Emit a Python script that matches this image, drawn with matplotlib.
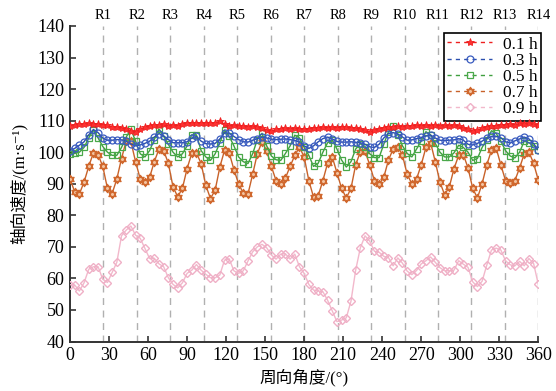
import numpy as np
import matplotlib
matplotlib.use("Agg")
import matplotlib.pyplot as plt
from matplotlib.path import Path
from matplotlib.transforms import Affine2D, blended_transform_factory

plt.rcParams['font.family'] = ['Liberation Serif', 'Noto Sans CJK SC', 'DejaVu Sans']

# circumferential angle, one sample every 3.6 deg
angle = np.arange(101) * 3.6
n_rotor = 14

v_01 = [108.4, 108.7, 108.9, 108.8, 109.1, 108.9, 109.0, 108.7, 108.5, 108.0,
        108.1, 107.6, 107.4, 106.7, 106.5, 107.3, 107.9, 108.3, 108.6, 108.5,
        108.8, 108.4, 108.6, 108.4, 108.9, 109.3, 109.1, 109.4, 109.2, 109.4,
        109.1, 109.3, 109.8, 108.9, 108.3, 108.5, 108.2, 108.4, 108.1, 108.3,
        108.0, 107.6, 107.0, 106.6, 107.2, 107.4, 107.6, 107.3, 107.6, 107.4,
        107.2, 107.5, 107.8, 107.6, 107.9, 107.7, 108.0, 107.8, 108.1, 107.9,
        107.7, 107.8, 107.4, 106.9, 106.5, 106.9, 107.5, 107.8, 108.1, 107.9,
        108.3, 108.1, 108.4, 108.2, 108.5, 108.3, 108.6, 108.4, 108.6, 108.3,
        108.5, 108.3, 108.6, 108.2, 107.8, 107.2, 106.6, 106.9, 107.6, 108.1,
        108.4, 108.3, 108.7, 108.5, 108.9, 108.7, 109.1, 108.9, 109.1, 108.8,
        108.6]

v_03 = [100.5, 101.2, 102.2, 103.3, 105.5, 107.2, 106.2, 104.5, 103.8, 103.8,
        104.0, 103.9, 103.5, 102.6, 102.0, 102.3, 102.8, 103.5, 104.8, 105.9,
        105.2, 104.0, 103.0, 103.0, 103.0, 103.3, 104.5, 105.0, 103.5, 102.7,
        102.6, 102.8, 104.2, 106.2, 106.0, 105.0, 104.0, 103.3, 103.2, 103.8,
        104.3, 104.8, 104.5, 104.1, 104.0, 104.1, 104.2, 104.0, 103.7, 103.2,
        102.0, 101.2, 102.0, 103.3, 104.3, 104.8, 104.2, 103.4, 103.2, 103.2,
        103.3, 103.1, 103.0, 102.5, 101.7, 101.5, 102.5, 104.5, 105.9, 106.2,
        105.8, 104.8, 103.8, 103.9, 104.3, 104.7, 105.1, 105.4, 104.5, 103.8,
        103.7, 103.8, 103.9, 104.3, 103.8, 102.5, 102.3, 102.8, 103.5, 104.5,
        105.0, 105.0, 104.6, 103.3, 102.9, 103.6, 104.2, 104.8, 104.2, 102.7,
        100.7]

v_05 = [99.5, 99.6, 100.0, 101.5, 104.5, 107.0, 104.5, 101.8, 100.0, 99.0,
        99.0, 101.5, 104.8, 107.3, 103.5, 99.5, 98.5, 100.5, 104.0, 107.4,
        105.0, 102.5, 100.0, 98.5, 99.5, 102.0, 105.5, 105.5, 100.5, 98.5,
        97.4, 99.5, 103.0, 107.0, 105.0, 102.0, 98.5, 97.0, 96.4, 99.5,
        104.0, 106.0, 102.0, 98.8, 97.6, 97.4, 99.6, 102.0, 105.4, 104.5,
        101.5, 99.0, 95.5, 96.5, 100.0, 103.0, 103.8, 101.0, 97.5, 95.3,
        97.0, 101.0, 102.7, 101.8, 99.5, 98.3, 98.3, 102.5, 106.5, 108.2,
        105.5, 102.0, 99.6, 98.5, 101.0, 103.5, 106.5, 105.5, 102.8, 100.0,
        98.5, 98.5, 99.8, 102.2, 101.5, 100.0, 97.4, 98.0, 101.5, 104.0,
        106.8, 106.0, 103.5, 100.5, 98.8, 98.2, 100.0, 103.5, 103.0, 102.0,
        100.8]

v_07 = [91.5, 87.5, 86.8, 90.5, 95.5, 99.8, 99.2, 95.5, 88.5, 86.9,
        91.5, 98.0, 103.6, 103.4, 97.0, 91.5, 90.6, 92.0, 97.0, 101.0,
        100.5, 96.5, 89.0, 85.9, 88.5, 94.8, 99.6, 99.8, 96.4, 89.5,
        85.3, 88.0, 95.3, 100.6, 99.8, 94.5, 90.0, 87.0, 86.7, 93.0,
        99.5, 103.3, 100.5, 95.5, 91.0, 89.8, 91.8, 95.5, 99.0, 101.6,
        98.5, 91.0, 85.8, 86.2, 91.0, 96.5, 98.5, 93.5, 88.5, 85.5,
        88.5, 96.0, 100.1, 100.3, 96.0, 91.0, 89.8, 92.0, 97.5, 101.0,
        101.8, 99.0, 93.0, 90.0, 91.5, 96.0, 101.5, 103.0, 97.0, 90.5,
        86.5, 89.0, 94.8, 99.0, 99.2, 95.0, 88.5, 85.5, 90.0, 96.0,
        100.6, 101.3, 96.0, 91.0, 90.2, 91.0, 95.0, 99.5, 100.0, 96.5,
        91.1]

v_09 = [58.0, 57.9, 56.0, 58.6, 62.9, 63.7, 63.7, 59.7, 58.7, 61.9,
        65.1, 73.5, 75.3, 76.6, 73.7, 72.7, 69.5, 66.3, 66.4, 64.6,
        63.7, 60.2, 58.1, 57.0, 58.6, 61.6, 62.6, 64.4, 62.6, 61.3,
        60.2, 60.2, 61.1, 65.8, 66.2, 62.4, 61.6, 62.4, 65.5, 68.4,
        70.0, 70.8, 69.7, 67.4, 66.1, 67.7, 67.8, 66.1, 67.7, 63.7,
        61.6, 58.1, 56.3, 56.0, 55.8, 53.1, 49.7, 46.3, 46.8, 47.5,
        52.8, 62.6, 69.7, 73.5, 71.8, 68.6, 68.3, 67.0, 66.6, 64.0,
        66.5, 64.8, 62.3, 61.2, 62.5, 64.6, 65.6, 66.8, 65.1, 63.4,
        62.4, 62.4, 62.6, 65.6, 64.5, 63.5, 58.9, 57.4, 59.1, 64.2,
        69.0, 69.6, 69.0, 65.6, 64.3, 64.0, 65.4, 64.0, 66.3, 64.7,
        58.1]

labels = ['0.1 h', '0.3 h', '0.5 h', '0.7 h', '0.9 h']

# star-of-david marker built from two triangles
tri = Path.unit_regular_polygon(3)
hexagram = Path.make_compound_path(tri, tri.transformed(Affine2D().rotate_deg(180)))

fig = plt.figure(figsize=(5.56, 3.91), dpi=100)
ax = fig.add_axes([70 / 556, 1 - 341.5 / 391, 468.3 / 556, 315.5 / 391])

# rotor passage positions
trans = blended_transform_factory(ax.transData, ax.transAxes)
for k in range(1, n_rotor + 1):
    xr = k * 360 / n_rotor
    ax.axvline(xr, color='#b0b0b0', ls=(0, (5, 4)), lw=1.0, zorder=1)
    ax.text(xr, 1.012, f'R{k}', transform=trans, ha='center', va='bottom',
            fontsize=10.5)

h9, = ax.plot(angle, v_09, color='#f2b8cb', lw=1.0, marker='D', ms=4.5,
              mfc='none', mec='#efb0c6', mew=1.0, zorder=3)
h7, = ax.plot(angle, v_07, color='#c8622a', lw=1.0, marker=hexagram, ms=6,
              mfc='#f3c3a0', mec='#d0682e', mew=0.9, zorder=4)
h5, = ax.plot(angle, v_05, color='#3f9f3f', lw=1.0, marker='s', ms=4.5,
              mfc='none', mec='#4aa84a', mew=0.9, zorder=5)
h3, = ax.plot(angle, v_03, color='#2b4fae', lw=1.0, marker='o', ms=5,
              mfc='none', mec='#3a5cc0', mew=0.9, zorder=6)
h1, = ax.plot(angle, v_01, color='#ee2020', lw=1.0, marker='*', ms=6,
              mfc='#ff3030', mec='#ee2020', mew=0.6, zorder=7)

leg = ax.legend([h1, h3, h5, h7, h9], labels, loc='upper right',
                bbox_to_anchor=(1.006, 0.978), fontsize=12.5, frameon=True,
                fancybox=False, edgecolor='black', framealpha=1,
                handlelength=2.6, labelspacing=0.0, borderpad=0.2,
                handletextpad=0.6, borderaxespad=0)
leg.get_frame().set_linewidth(1.2)
for lh in leg.get_lines():
    lh.set_linestyle((0, (3, 3)))

ax.set_xlim(0, 360)
ax.set_ylim(40, 140)
ax.set_xticks(np.arange(0, 361, 30))
ax.set_yticks(np.arange(40, 141, 10))
ax.tick_params(direction='in', length=4, width=1.2, labelsize=13, pad=4,
               color='#333333')
for s in ['top', 'right']:
    ax.spines[s].set_visible(False)
for s in ['left', 'bottom']:
    ax.spines[s].set_linewidth(1.4)
    ax.spines[s].set_color('#333333')

ax.set_xlabel('周向角度/(°)', fontsize=12, labelpad=3)
ax.set_ylabel('轴向速度/(m·s⁻¹)', fontsize=12, labelpad=7)

fig.savefig('out.png', dpi=100)
